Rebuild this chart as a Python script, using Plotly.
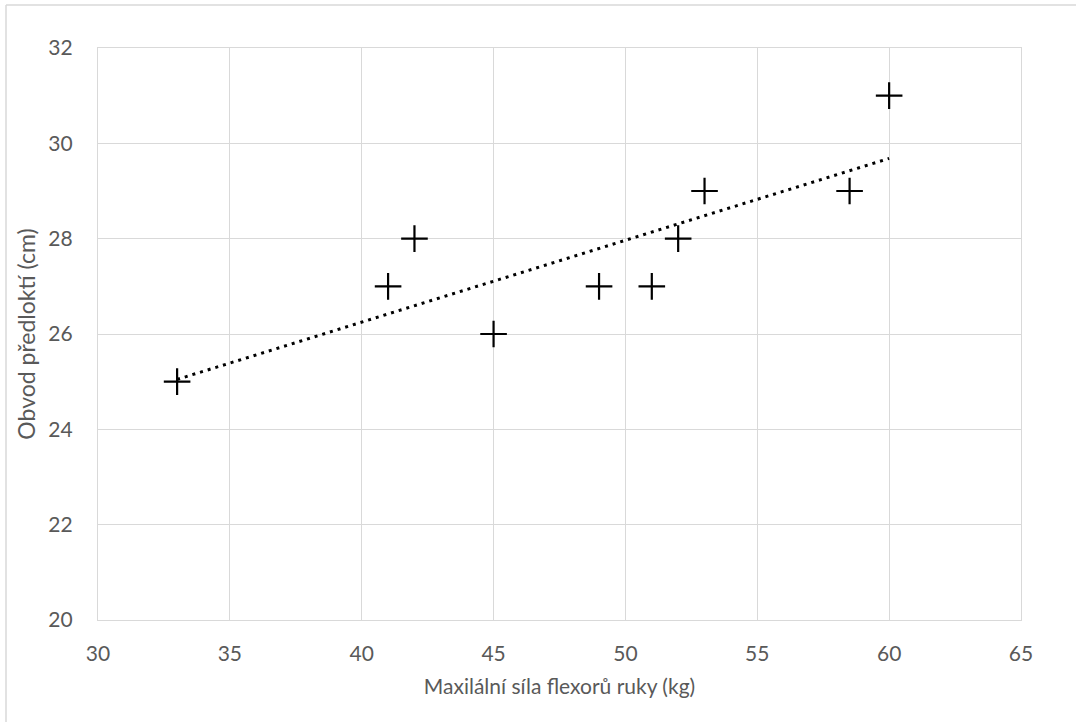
import numpy as np
import plotly.graph_objects as go

# Grip strength of hand flexors (kg) vs. forearm circumference (cm)
sila_kg = [33, 41, 42, 45, 49, 51, 52, 53, 58.5, 60]
obvod_cm = [25, 27, 28, 26, 27, 27, 28, 29, 29, 31]

x_ticks = [30, 35, 40, 45, 50, 55, 60, 65]
y_ticks = [20, 22, 24, 26, 28, 30, 32]

# Linear trend line over the data range
slope, intercept = np.polyfit(sila_kg, obvod_cm, 1)
trend_x = [min(sila_kg), max(sila_kg)]
trend_y = [slope * v + intercept for v in trend_x]

font_family = "Lato, 'Open Sans', sans-serif"
grey_text = "#595959"
grid = "#d9d9d9"

fig = go.Figure()
fig.add_trace(go.Scatter(
    x=trend_x, y=trend_y, mode="lines",
    line=dict(color="black", width=3, dash="3px,5px"),
    hoverinfo="skip", showlegend=False,
))
fig.add_trace(go.Scatter(
    x=sila_kg, y=obvod_cm, mode="markers",
    marker=dict(symbol="cross-thin", size=19, line=dict(color="black", width=2.2)),
    showlegend=False,
))

fig.update_layout(
    width=1076, height=722,
    margin=dict(l=98, r=55, t=48, b=102),
    paper_bgcolor="white", plot_bgcolor="white",
    font=dict(family=font_family, size=21, color=grey_text),
    xaxis=dict(
        range=[30, 65], tickvals=x_ticks, showgrid=True, gridcolor=grid, gridwidth=1.3,
        zeroline=False, showline=True, linecolor=grid, linewidth=1.3, mirror=True,
        ticks="", ticklabelstandoff=15,
        title=dict(text="Maxilální síla flexorů ruky (kg)", font=dict(size=21, color=grey_text), standoff=14),
    ),
    yaxis=dict(
        range=[20, 32], tickvals=y_ticks, showgrid=True, gridcolor=grid, gridwidth=1.3,
        zeroline=False, showline=True, linecolor=grid, linewidth=1.3, mirror=True,
        ticks="", ticklabelstandoff=20,
        title=dict(text="Obvod předloktí (cm)", font=dict(size=23, color=grey_text), standoff=6),
    ),
    shapes=[
        dict(type="line", xref="paper", yref="paper", x0=-92/923, x1=1.2, y0=1 + 43/572, y1=1 + 43/572,
             line=dict(color="#d9d9d9", width=1.5)),
        dict(type="line", xref="paper", yref="paper", x0=-92/923, x1=-92/923, y0=1 + 43/572, y1=-0.3,
             line=dict(color="#d9d9d9", width=1.5)),
    ],
)

fig.write_html("out.html")
